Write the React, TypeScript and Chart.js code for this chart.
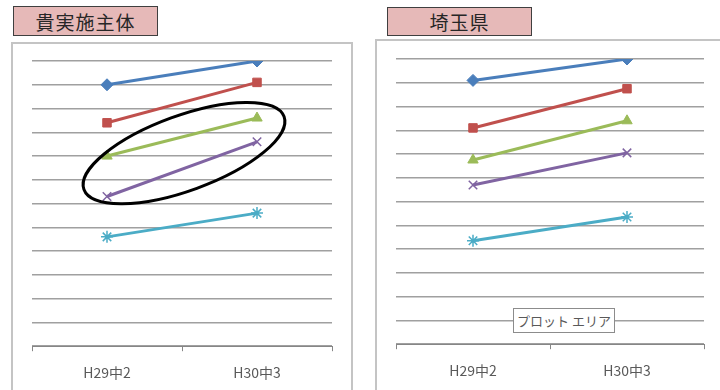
import React, { useEffect, useRef } from 'react';
import { Chart, registerables } from 'chart.js';

Chart.register(...registerables);

// ---- data ----
const categories = ['H29中2', 'H30中3'];
const yMin = 0;
const yMax = 12;
const yStep = 1;

// 貴実施主体
const ownBlue = [11.0, 12.0];
const ownRed = [9.4, 11.1];
const ownGreen = [8.0, 9.6];
const ownPurple = [6.3, 8.6];
const ownCyan = [4.6, 5.6];

// 埼玉県
const prefBlue = [11.1, 12.0];
const prefRed = [9.1, 10.75];
const prefGreen = [7.75, 9.4];
const prefPurple = [6.7, 8.05];
const prefCyan = [4.35, 5.35];

const seriesColors = ['#4a7ebb', '#c0504d', '#9bbb59', '#8064a2', '#4bacc6'];
const seriesMarkers = ['rectRot', 'rect', 'triangle', 'crossRot', 'star'];
const markerRadius = [6, 6, 6, 6, 6];

const FONT = "'Noto Sans CJK JP', 'Noto Sans', sans-serif";

function buildDatasets(values: number[][]) {
  return values.map((v, i) => ({
    label: 'S' + (i + 1),
    data: v,
    borderColor: seriesColors[i],
    backgroundColor: seriesColors[i],
    borderWidth: 3,
    pointStyle: seriesMarkers[i] as any,
    pointRadius: markerRadius[i],
    pointBorderColor: seriesColors[i],
    pointBackgroundColor: seriesColors[i],
    pointBorderWidth: i >= 3 ? 1.5 : 1,
    tension: 0,
  }));
}

// ellipse annotation around green & purple series (computed from scales)
const ellipsePlugin = {
  id: 'ellipseMark',
  afterDatasetsDraw(chart: any) {
    const g = chart.getDatasetMeta(2).data;
    const p = chart.getDatasetMeta(3).data;
    if (!g.length || !p.length) return;
    const pts = [g[0], g[1], p[0], p[1]];
    const cx = pts.reduce((s: number, q: any) => s + q.x, 0) / 4 + 2;
    const cy = pts.reduce((s: number, q: any) => s + q.y, 0) / 4;
    const dx = g[1].x - g[0].x;
    const ang = Math.atan2(((g[1].y - g[0].y) + (p[1].y - p[0].y)) / 2, dx) - 0.05;
    const a = dx * 0.71;
    const b = dx * 0.25;
    const ctx = chart.ctx;
    ctx.save();
    ctx.beginPath();
    ctx.ellipse(cx, cy, a, b, ang, 0, Math.PI * 2);
    ctx.strokeStyle = '#000000';
    ctx.lineWidth = 3;
    ctx.stroke();
    ctx.restore();
  },
};

type Props = {
  values: number[][];
  width: number;
  height: number;
  left: number;
  top: number;
  padding: { left: number; right: number; top: number; bottom: number };
  withEllipse?: boolean;
};

function LineChart({ values, width, height, left, top, padding, withEllipse }: Props) {
  const ref = useRef<HTMLCanvasElement>(null);
  useEffect(() => {
    const chart = new Chart(ref.current!, {
      type: 'line',
      data: { labels: categories, datasets: buildDatasets(values) as any },
      options: {
        responsive: false,
        animation: false,
        layout: { padding },
        plugins: { legend: { display: false }, tooltip: { enabled: false }, title: { display: false } },
        scales: {
          x: {
            offset: true,
            grid: {
              display: true,
              offset: true,
              drawOnChartArea: false,
              drawTicks: true,
              tickLength: 5,
              color: '#868686',
              lineWidth: 1,
            },
            border: { display: true, color: '#868686', width: 1 },
            ticks: { color: '#595959', font: { family: FONT, size: 14 }, padding: 13 },
          },
          y: {
            min: yMin,
            max: yMax,
            ticks: { display: false, stepSize: yStep },
            grid: { color: '#a0a0a0', lineWidth: 1.5, drawTicks: false },
            border: { display: false },
          },
        },
      },
      plugins: withEllipse ? [ellipsePlugin] : [],
    });
    return () => chart.destroy();
  }, []);
  return (
    <canvas
      ref={ref}
      width={width}
      height={height}
      style={{ position: 'absolute', left, top, width, height }}
    />
  );
}

const titleStyle: React.CSSProperties = {
  position: 'absolute',
  boxSizing: 'border-box',
  background: '#e6b9b8',
  border: '1.5px solid #3f3f3f',
  display: 'flex',
  alignItems: 'center',
  justifyContent: 'center',
  fontFamily: FONT,
  fontSize: 19,
  color: '#262626',
  letterSpacing: 1,
};

const frameStyle: React.CSSProperties = {
  position: 'absolute',
  boxSizing: 'border-box',
  border: '2px solid #c4c4c4',
  background: '#ffffff',
};

export default function App() {
  return (
    <div
      style={{
        position: 'fixed',
        left: 0,
        top: 0,
        width: 720,
        height: 390,
        overflow: 'hidden',
        background: '#ffffff',
      }}
    >
      <div style={{ ...frameStyle, left: 11, top: 42, width: 342, height: 400 }} />
      <div style={{ ...frameStyle, left: 375, top: 39, width: 400, height: 400 }} />

      <div style={{ ...titleStyle, left: 13, top: 6, width: 145, height: 30 }}>貴実施主体</div>
      <div style={{ ...titleStyle, left: 387, top: 7, width: 145, height: 29 }}>埼玉県</div>

      <LineChart
        values={[ownBlue, ownRed, ownGreen, ownPurple, ownCyan]}
        width={338}
        height={350}
        left={13}
        top={44}
        padding={{ left: 19, right: 19, top: 17, bottom: 0 }}
        withEllipse
      />
      <LineChart
        values={[prefBlue, prefRed, prefGreen, prefPurple, prefCyan]}
        width={343}
        height={351}
        left={377}
        top={41}
        padding={{ left: 19, right: 16, top: 18, bottom: 0 }}
      />

      <div
        style={{
          position: 'absolute',
          left: 513,
          top: 308,
          width: 102,
          height: 25,
          boxSizing: 'border-box',
          border: '1px solid #8c8c8c',
          background: '#ffffff',
          display: 'flex',
          alignItems: 'center',
          justifyContent: 'center',
          fontFamily: FONT,
          fontSize: 13,
          color: '#595959',
        }}
      >
        プロット エリア
      </div>
    </div>
  );
}
